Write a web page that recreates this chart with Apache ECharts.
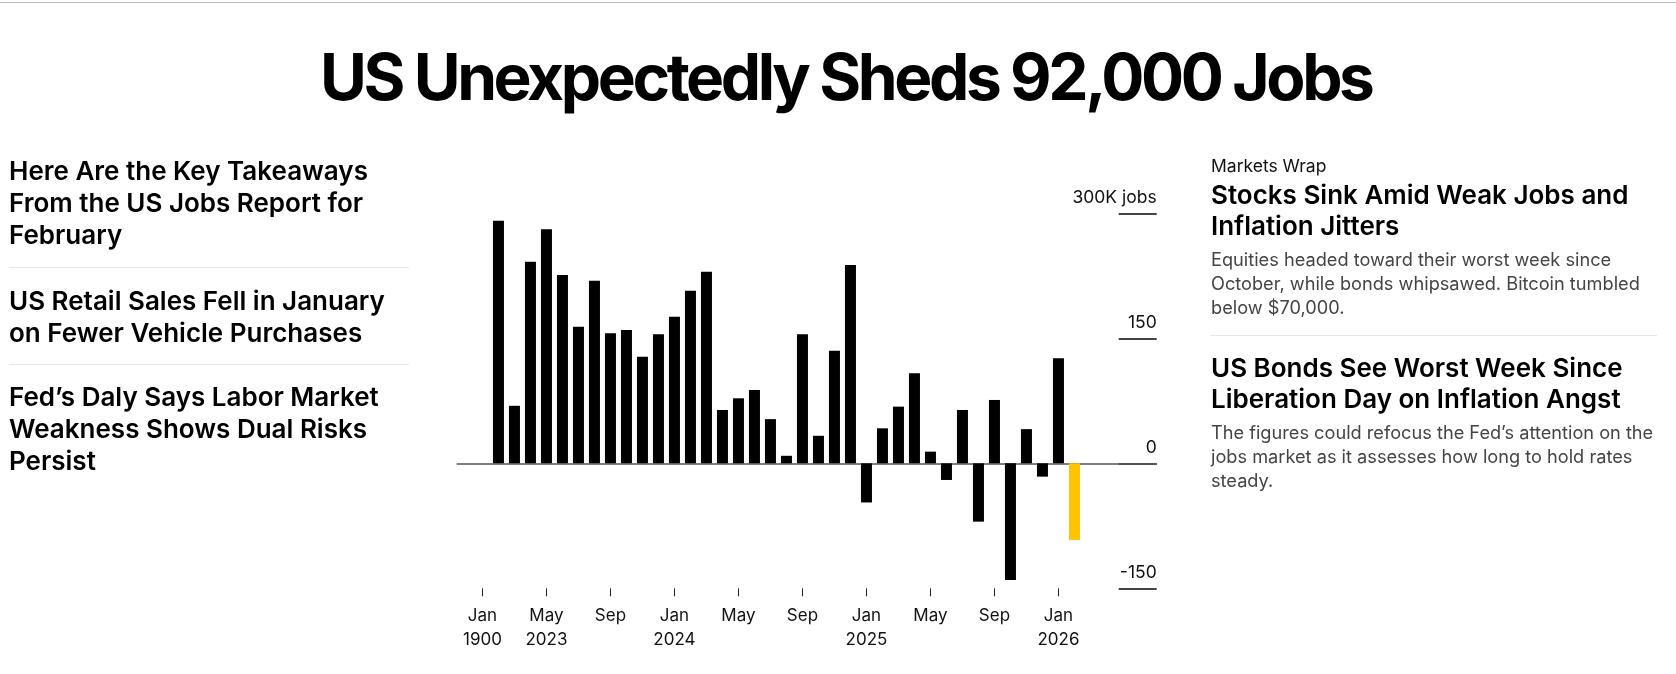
<!DOCTYPE html>
<html>
<head>
<meta charset="utf-8">
<script src="https://cdn.jsdelivr.net/npm/echarts@6/dist/echarts.min.js"></script>
<style>
html,body{margin:0;padding:0;background:#fff;width:1676px;height:674px;overflow:hidden;font-family:Inter,"Noto Sans",sans-serif;}
#topline{position:absolute;left:0;top:2px;width:1676px;height:1px;background:#bdbdbd;}
#chart{position:absolute;left:0;top:0;width:1676px;height:674px;}
.t{position:absolute;white-space:nowrap;margin:0;}
#title{left:320px;top:38px;font-size:64px;line-height:1.21;font-weight:700;color:#000;letter-spacing:-3.4px;}
.lh{left:9px;font-size:26px;line-height:32px;font-weight:600;color:#000;}
.sep{position:absolute;height:1px;background:#e8e8e8;}
.kick{left:1211px;font-size:17.5px;line-height:20px;font-weight:400;color:#111;}
.rh{left:1211px;font-size:26px;line-height:31px;font-weight:600;color:#000;}
.rb{left:1211px;font-size:18.2px;line-height:24px;font-weight:400;color:#444;}
</style>
</head>
<body>
<div id="topline"></div>
<div id="chart"></div>
<h1 class="t" id="title">US Unexpectedly Sheds 92,000 Jobs</h1>

<div class="t lh" style="top:154.5px">Here Are the Key Takeaways<br>From the US Jobs Report for<br>February</div>
<div class="sep" style="left:9px;top:267px;width:400px"></div>
<div class="t lh" style="top:284.5px">US Retail Sales Fell in January<br>on Fewer Vehicle Purchases</div>
<div class="sep" style="left:9px;top:364px;width:400px"></div>
<div class="t lh" style="top:381.2px">Fed’s Daly Says Labor Market<br>Weakness Shows Dual Risks<br>Persist</div>

<div class="t kick" style="top:155.9px">Markets Wrap</div>
<div class="t rh" style="top:179px">Stocks Sink Amid Weak Jobs and<br>Inflation Jitters</div>
<div class="t rb" style="top:246.5px">Equities headed toward their worst week since<br>October, while bonds whipsawed. Bitcoin tumbled<br>below $70,000.</div>
<div class="sep" style="left:1210px;top:335px;width:447px"></div>
<div class="t rh" style="top:352.1px">US Bonds See Worst Week Since<br>Liberation Day on Inflation Angst</div>
<div class="t rb" style="top:419.8px">The figures could refocus the Fed’s attention on the<br>jobs market as it assesses how long to hold rates<br>steady.</div>

<script>
// Monthly change in US nonfarm payrolls, thousands of jobs
const months = [
  "Jan 2023","Feb 2023","Mar 2023","Apr 2023","May 2023","Jun 2023","Jul 2023","Aug 2023","Sep 2023","Oct 2023","Nov 2023","Dec 2023",
  "Jan 2024","Feb 2024","Mar 2024","Apr 2024","May 2024","Jun 2024","Jul 2024","Aug 2024","Sep 2024","Oct 2024","Nov 2024","Dec 2024",
  "Jan 2025","Feb 2025","Mar 2025","Apr 2025","May 2025","Jun 2025","Jul 2025","Aug 2025","Sep 2025","Oct 2025","Nov 2025","Dec 2025",
  "Jan 2026","Feb 2026"
];
const jobs = [
  null, 291, 69, 242, 281, 226, 164, 219, 156, 160, 128, 155,
  176, 207, 230, 64, 78, 88, 53, 9, 155, 33, 135, 238,
  -47, 42, 68, 108, 14, -20, 64, -70, 76, -140, 41, -16,
  126, -92
];
const highlightMonth = "Feb 2026";
const tickMonths = ["Jan 2023","May 2023","Sep 2023","Jan 2024","May 2024","Sep 2024","Jan 2025","May 2025","Sep 2025","Jan 2026"];
const tickLabels = ["Jan\n1900","May\n2023","Sep","Jan\n2024","May","Sep","Jan\n2025","May","Sep","Jan\n2026"];
const yTicks = [-150, 0, 150, 300];
const yTickLabels = ["-150", "0", "150", "300K jobs"];

const tickIdx = tickMonths.map(m => months.indexOf(m));
const barData = months.map((m, i) => ({
  value: [i, jobs[i]],
  itemStyle: { color: m === highlightMonth ? '#FFC300' : '#000000' }
})).filter(d => d.value[1] !== null);

const chart = echarts.init(document.getElementById('chart'), null, { renderer: 'canvas' });
chart.setOption({
  animation: false,
  backgroundColor: 'transparent',
  textStyle: { fontFamily: 'Inter, "Noto Sans", sans-serif' },
  grid: { left: 456.7, top: 213.3, width: 700, height: 375, containLabel: false, outerBoundsMode: 'none' },
  xAxis: {
    type: 'value',
    min: -1.61,
    max: 42.14,
    position: 'bottom',
    axisLine: { show: false, onZero: false },
    splitLine: { show: false },
    axisTick: { show: true, customValues: tickIdx, length: 8, lineStyle: { color: '#222', width: 1 } },
    axisLabel: {
      show: true,
      customValues: tickIdx,
      formatter: v => tickLabels[tickIdx.indexOf(v)] || '',
      fontSize: 17,
      lineHeight: 23.5,
      color: '#111',
      margin: 16
    }
  },
  yAxis: {
    type: 'value',
    position: 'right',
    min: -150,
    max: 300,
    interval: 150,
    axisLine: { show: false, onZero: false },
    splitLine: { show: false },
    axisTick: { show: true, inside: true, length: 38, lineStyle: { color: '#444', width: 2 } },
    axisLabel: {
      show: true,
      inside: true,
      margin: 0,
      verticalAlign: 'bottom',
      padding: [0, 0, 7, 0],
      fontSize: 17.5,
      color: '#111',
      showMinLabel: true,
      showMaxLabel: true,
      formatter: v => { const k = yTicks.indexOf(v); return k >= 0 ? yTickLabels[k] : ''; }
    }
  },
  series: [{
    type: 'bar',
    barWidth: 11,
    data: barData,
    z: 2,
    markLine: {
      silent: true,
      symbol: 'none',
      label: { show: false },
      lineStyle: { color: '#555', width: 1.5, type: 'solid' },
      data: [{ yAxis: 0 }],
      z: 1
    }
  }]
});
</script>
</body>
</html>
